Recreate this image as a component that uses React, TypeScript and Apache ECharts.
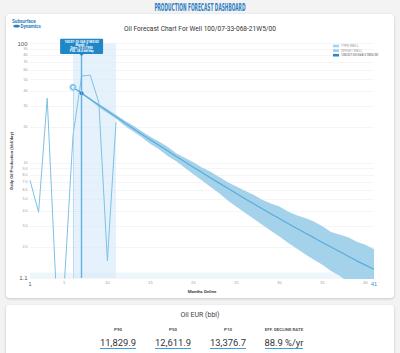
import React, { useEffect, useRef } from "react";
import * as echarts from "echarts";

const WELL = "100/07-33-068-21W5/00";
const CHART_TITLE = "Oil Forecast Chart For Well " + WELL;
const LEGEND_NAMES = ["TYPE WELL", "OFFSET WELL", WELL];

const firstMonth = 1;
const lastMonth = 41;

const actualMonths = [1, 2, 3, 4, 5, 6, 7, 8, 9, 10, 11];
const actualRates = [7.2, 3.9, 34.9, 1.0, 1.0, 17.0, 53.4, 54.4, 32.3, 1.53, 22.1];

const forecastMonths = [6, 7, 8, 9, 10, 11, 12, 13, 14, 15, 16, 17, 18, 19, 20, 21, 22, 23, 24, 25, 26, 27, 28, 29, 30, 31, 32, 33, 34, 35, 36, 37, 38, 39, 40, 41];
const p50 = [43.1, 38.4, 34.3, 30.6, 27.3, 24.4, 21.8, 19.5, 17.5, 15.7, 14.1, 12.7, 11.4, 10.3, 9.26, 8.36, 7.54, 6.82, 6.17, 5.58, 5.06, 4.59, 4.17, 3.79, 3.45, 3.14, 2.86, 2.61, 2.39, 2.18, 2.0, 1.83, 1.67, 1.53, 1.41, 1.3];
const p10 = [43.1, 39.1, 35.0, 31.2, 28.4, 25.4, 22.7, 20.7, 18.5, 16.6, 15.2, 13.7, 12.1, 11.1, 10.2, 9.21, 8.47, 7.66, 6.93, 6.39, 5.9, 5.46, 4.96, 4.6, 4.35, 3.96, 3.67, 3.49, 3.26, 2.97, 2.67, 2.54, 2.41, 2.21, 2.08, 1.91];
const p90 = [43.1, 37.7, 33.6, 29.4, 26.3, 23.5, 20.6, 18.4, 16.5, 14.5, 13.1, 11.5, 10.4, 9.17, 8.09, 7.16, 6.34, 5.62, 4.89, 4.34, 3.86, 3.44, 3.06, 2.73, 2.44, 2.17, 1.94, 1.74, 1.56, 1.42, 1.26, 1.15, 1.01, 0.89, 0.82, 0.73];

const yTicks = [1.1, 2, 3, 4, 5, 6, 7, 8, 9, 10, 20, 30, 40, 50, 60, 70, 80, 90, 100];
const xTicks = [1, 5, 10, 15, 20, 25, 30, 35, 40, 41];

const tipMonth = 7;
const tipDate = "7/31/1990";
const highlightStart = 6;
const highlightEnd = 11;

const eurLabels = ["P90", "P50", "P10", "EFF. DECLINE RATE"];
const eurValues = ["11,829.9", "12,611.9", "13,376.7", "88.9 %/yr"];

const L = (v: number) => Math.log10(v);

export default function App() {
  const ref = useRef<HTMLDivElement>(null);

  useEffect(() => {
    if (!ref.current) return;
    const chart = echarts.init(ref.current, null, { renderer: "svg" });
    const yMin = L(yTicks[0]);
    const yMax = L(yTicks[yTicks.length - 1]);
    const tipIdx = forecastMonths.indexOf(tipMonth);
    const startIdx = 0;
    const cats: string[] = [];
    for (let m = firstMonth; m <= lastMonth; m++) cats.push(String(m));
    const C = (m: number) => String(m);

    const fmtY = (v: number) => {
      let best = yTicks[0];
      let d = Infinity;
      for (const t of yTicks) {
        const dd = Math.abs(L(t) - v);
        if (dd < d) { d = dd; best = t; }
      }
      if (best === yTicks[0] || best === yTicks[yTicks.length - 1]) {
        return `{big|${best < 10 ? best.toFixed(1) : best}}`;
      }
      return best < 10 ? best.toFixed(1) : String(best);
    };

    chart.setOption({
      animation: false,
      title: {
        text: CHART_TITLE,
        left: "center",
        top: 6,
        textStyle: { fontSize: 6.6, fontWeight: "normal", color: "#333", fontFamily: "Roboto" },
      },
      legend: {
        orient: "vertical",
        left: 322,
        top: 25.5,
        itemWidth: 6,
        itemHeight: 2.6,
        itemGap: 1.6,
        selectedMode: false,
        textStyle: { fontSize: 3.4, color: "#999", fontFamily: "Roboto", padding: [0, 0, 0, -3] },
        data: [
          { name: LEGEND_NAMES[0], icon: "rect", itemStyle: { color: "#a4d2ee" } },
          { name: LEGEND_NAMES[1], icon: "rect", itemStyle: { color: "#9ccdec" } },
          { name: LEGEND_NAMES[2], icon: "rect", itemStyle: { color: "#2a87cc" }, textStyle: { color: "#555" } },
        ],
      },
      grid: { left: 24, right: 20, top: 29.5, bottom: 20, containLabel: false, outerBoundsMode: "none" },
      xAxis: {
        type: "category",
        data: cats,
        boundaryGap: false,
        name: "Months Online",
        nameLocation: "middle",
        nameGap: 11,
        nameMoveOverlap: false,
        nameTextStyle: { fontSize: 4.4, color: "#444", fontWeight: "bold", fontFamily: "Roboto" },
        axisLine: { show: false },
        axisTick: { show: false },
        splitLine: { show: false },
        axisLabel: {
          interval: (_i: number, val: string) => xTicks.includes(Number(val)),
          fontSize: 3.8,
          color: "#999",
          margin: 3,
          formatter: (v: string) => (Number(v) === lastMonth ? `{end|${v}}` : Number(v) === firstMonth ? `{first|${v}}` : v),
          rich: {
            end: { fontSize: 5.5, color: "#3b8fd0" },
            first: { fontSize: 5.5, color: "#555" },
          },
        },
      },
      yAxis: {
        type: "value",
        min: yMin,
        max: yMax,
        name: "Daily Oil Production (bbl/day)",
        nameLocation: "middle",
        nameGap: 16.5,
        nameMoveOverlap: false,
        nameTextStyle: { fontSize: 4.4, color: "#444", fontWeight: "bold", fontFamily: "Roboto" },
        axisLine: { show: false },
        axisTick: { show: false, customValues: yTicks.map(L) },
        splitLine: { show: true, lineStyle: { color: "#efefef", width: 0.6 } },
        axisLabel: {
          customValues: yTicks.map(L),
          fontSize: 3.6,
          color: "#999",
          margin: 2.5,
          formatter: fmtY,
          rich: { big: { fontSize: 6, color: "#555" } },
        },
      },
      series: [
        {
          name: "band-base",
          type: "line",
          stack: "band",
          stackStrategy: "all",
          symbol: "none",
          silent: true,
          z: 1,
          lineStyle: { opacity: 0 },
          emphasis: { disabled: true },
          data: forecastMonths.map((m, i) => [C(m), L(p90[i])]),
          markArea: {
            silent: true,
            data: [
              [{ xAxis: C(highlightStart), itemStyle: { color: "rgba(210,232,247,0.55)" } }, { xAxis: C(highlightEnd) }],
              [{ yAxis: yMin, itemStyle: { color: "rgba(215,234,247,0.45)" } }, { yAxis: L(1.22) }],
            ],
          },
        },
        {
          name: LEGEND_NAMES[0],
          type: "line",
          stack: "band",
          stackStrategy: "all",
          symbol: "none",
          silent: true,
          z: 2,
          lineStyle: { opacity: 0 },
          areaStyle: { color: "#a5d2eb", opacity: 1 },
          emphasis: { disabled: true },
          data: forecastMonths.map((m, i) => [C(m), L(p10[i]) - L(p90[i])]),
        },
        {
          name: LEGEND_NAMES[1],
          type: "line",
          symbol: "none",
          z: 3,
          lineStyle: { color: "#7ec0e6", width: 1 },
          emphasis: { disabled: true },
          data: actualMonths.map((m, i) => [C(m), L(actualRates[i])]),
        },
        {
          name: LEGEND_NAMES[2],
          type: "line",
          symbol: "none",
          showSymbol: true,
          showAllSymbol: true,
          z: 4,
          lineStyle: { color: "#58acdb", width: 1.2 },
          emphasis: { disabled: true },
          data: forecastMonths.map((m, i) => {
            const value = [C(m), L(p50[i])];
            if (i === startIdx)
              return { value, symbol: "emptyCircle", symbolSize: 5, itemStyle: { color: "#86c6ea", borderWidth: 1 } };
            if (i === tipIdx)
              return { value, symbol: "circle", symbolSize: 3.8, itemStyle: { color: "#1d76bb" } };
            return { value, symbol: "none" };
          }),
          markLine: {
            silent: true,
            symbol: ["none", "none"],
            label: { show: false },
            data: [
              [
                { coord: [C(forecastMonths[startIdx]), L(p50[startIdx])], lineStyle: { type: "dotted", color: "#8dc9ea", width: 1 } },
                { coord: [C(forecastMonths[startIdx]), yMin] },
              ],
              [
                { coord: [C(tipMonth), L(80)], lineStyle: { type: "solid", color: "#62b1e0", width: 1.4 } },
                { coord: [C(tipMonth), yMin] },
              ],
            ],
          },
        },
      ],
    });

    const [cx] = chart.convertToPixel({ gridIndex: 0 }, [C(tipMonth), L(80)]) as number[];
    const boxW = 43;
    const boxTop = 24.7;
    const boxH = 15.4;
    chart.setOption({
      graphic: [
        { type: "text", left: 6, top: 4.8, style: { text: "Subsurface", fontSize: 4.6, fontWeight: "bold", fill: "#2b7fc1", fontFamily: "Roboto" } },
        { type: "ellipse", shape: { cx: 10.6, cy: 12.2, rx: 3.4, ry: 1.4 }, style: { fill: "#2b7fc1" } },
        { type: "text", left: 14.5, top: 9.6, style: { text: "Dynamics", fontSize: 4.6, fontWeight: "bold", fill: "#2b7fc1", fontFamily: "Roboto" } },
        {
          type: "rect",
          shape: { x: cx - boxW / 2, y: boxTop, width: boxW, height: boxH, r: 1 },
          style: { fill: "#1f87c8" },
          z: 100,
        },
        {
          type: "polygon",
          shape: { points: [[cx - 2, boxTop + boxH], [cx + 2, boxTop + boxH], [cx, boxTop + boxH + 2]] },
          style: { fill: "#1f87c8" },
          z: 100,
        },
        {
          type: "text",
          x: cx,
          y: boxTop + 1.8,
          z: 101,
          style: {
            text: `${WELL}\nMonth: ${tipMonth}\nDate: ${tipDate}\nP50: ${p50[tipIdx].toFixed(1)} bbl/day`,
            fontSize: 3,
            lineHeight: 2.9,
            fontWeight: "bold",
            fill: "#ffffff",
            align: "center",
            verticalAlign: "top",
            fontFamily: "Roboto",
          },
        },
      ],
    });

    return () => chart.dispose();
  }, []);

  const centers = [118, 173, 228, 284];

  return (
    <div style={{ position: "fixed", left: 0, top: 0, width: 400, height: 353, background: "#f3f3f3", overflow: "hidden", fontFamily: "Roboto, sans-serif" }}>
      <div style={{ position: "absolute", left: 0, top: 0, width: 400, height: 12, lineHeight: "12px", textAlign: "center" }}>
        <span style={{ display: "inline-block", fontFamily: '"DejaVu Sans", sans-serif', fontWeight: 700, fontSize: 10, color: "#2e7fc2", transform: "scaleX(0.43)", whiteSpace: "nowrap" }}>
          PRODUCTION FORECAST DASHBOARD
        </span>
      </div>
      <div style={{ position: "absolute", left: 6, top: 14, width: 388, height: 284, background: "#fff", borderRadius: 4, boxShadow: "0 1px 3px rgba(0,0,0,0.18)" }}>
        <div ref={ref} style={{ width: 388, height: 284 }} />
      </div>
      <div style={{ position: "absolute", left: 6, top: 305, width: 388, height: 60, background: "#fff", borderRadius: 4, boxShadow: "0 1px 3px rgba(0,0,0,0.18)" }}>
        <div style={{ position: "absolute", left: 0, top: 6, width: 388, textAlign: "center", fontSize: 7, lineHeight: "8px", color: "#444" }}>
          Oil EUR (bbl)
        </div>
        {eurLabels.map((lab, i) => (
          <div key={lab} style={{ position: "absolute", left: centers[i] - 6 - 40, top: 21.5, width: 80, textAlign: "center" }}>
            <div style={{ fontFamily: "Roboto", fontWeight: 700, fontSize: 4.4, lineHeight: "5px", color: "#555", whiteSpace: "nowrap" }}>{lab}</div>
            <div style={{ marginTop: 4, lineHeight: "10px" }}>
              <span style={{ display: "inline-block", fontSize: 9.4, lineHeight: "10px", color: "#333", borderBottom: "1.5px solid #3c9de0", whiteSpace: "nowrap" }}>
                {eurValues[i]}
              </span>
            </div>
          </div>
        ))}
      </div>
    </div>
  );
}
